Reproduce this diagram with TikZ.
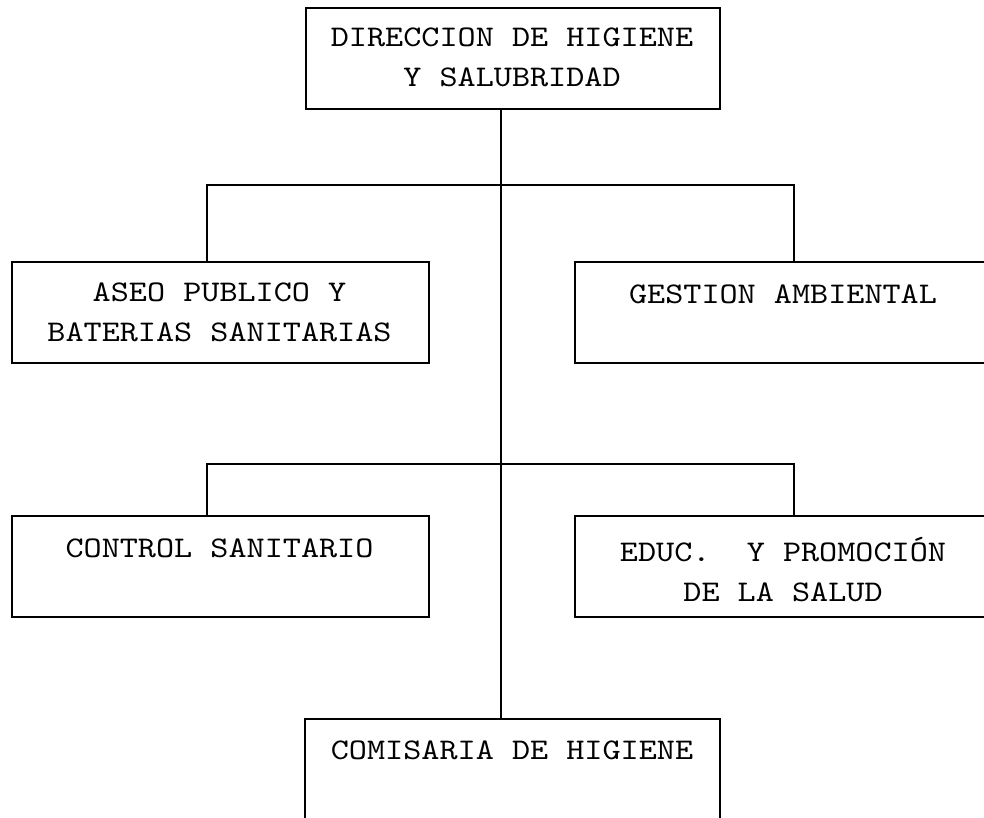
\documentclass[tikz,border=0pt]{standalone}
\usepackage{fontspec}
\newfontfamily\boxfont{lmmono10-regular.otf}[FakeStretch=1.15]
\begin{document}
\begin{tikzpicture}[x=1pt,y=-1pt,
  box/.style={draw, line width=1.6pt, anchor=north west, minimum width=#1, minimum height=101pt, inner sep=0pt},
  lbl/.style={font=\boxfont\fontsize{30}{40}\selectfont, align=center, inner sep=0pt},
  conn/.style={line width=1.6pt}]
\path[use as bounding box, clip] (0,0) rectangle (984,818);
\fill[white] (0,0) rectangle (984,818);
% boxes
\node[box=414pt] (top)  at (305,7)   {};
\node[box=417pt] (aseo) at (11,261)  {};
\node[box=417pt] (gest) at (574,261) {};
\node[box=417pt] (ctrl) at (11,515)  {};
\node[box=417pt] (educ) at (574,515) {};
\node[box=415pt, minimum height=102pt] (com) at (304,718) {};
% labels
\node[lbl] (topT)  at (512,57)   {DIRECCION DE HIGIENE\\Y SALUBRIDAD};
\node[lbl] (aseoT) at (219.5,312) {ASEO PUBLICO Y\\BATERIAS SANITARIAS};
\node[lbl] (gestT) at (783,294)  {GESTION AMBIENTAL};
\node[lbl] (ctrlT) at (219.5,548) {CONTROL SANITARIO};
\node[lbl] (educT) at (783,570)  {EDUC.\ \ Y PROMOCIÓN\\DE LA SALUD};
\node[lbl] (comT)  at (512,750)  {COMISARIA DE HIGIENE};
% connectors
\coordinate (trunk) at (501,0);
\coordinate (b1) at (501,185);
\coordinate (b2) at (501,464);
\coordinate (dl) at (207,0);
\coordinate (dr) at (794,0);
\draw[conn] (top.south -| trunk) -- (com.north -| trunk);
\draw[conn] (aseo.north -| dl) -- (b1 -| dl) -- (b1 -| dr) -- (gest.north -| dr);
\draw[conn] (ctrl.north -| dl) -- (b2 -| dl) -- (b2 -| dr) -- (educ.north -| dr);
\end{tikzpicture}
\end{document}
